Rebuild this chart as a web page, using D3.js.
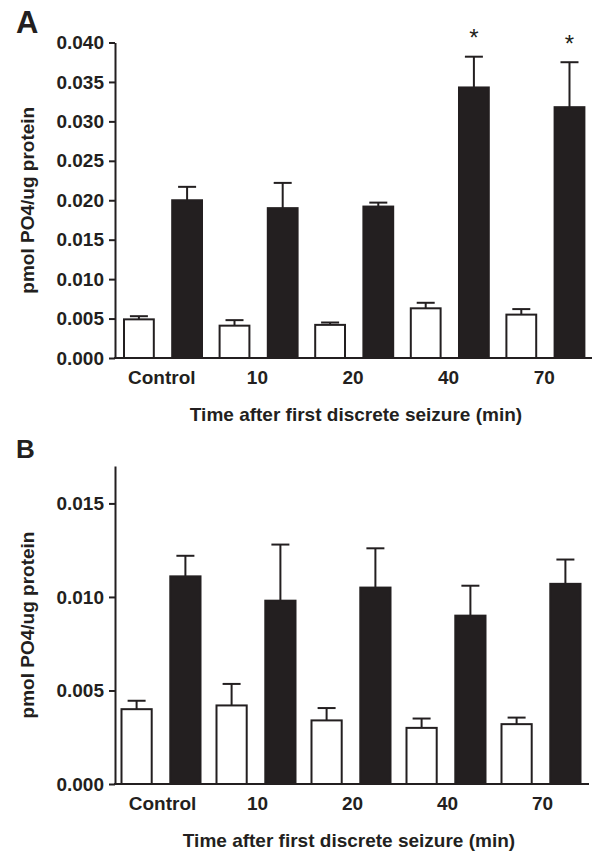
<!DOCTYPE html>
<html>
<head>
<meta charset="utf-8">
<script src="https://cdn.jsdelivr.net/npm/d3@7"></script>
<style>
	body { margin: 0; background: #fff; }
	svg text { font-family: "Liberation Sans", Arial, Helvetica, sans-serif; fill: #231f20; }
</style>
</head>
<body>
<svg id="chart" width="592" height="852"></svg>
<script>
// values
const categories = ['Control', '10', '20', '40', '70'];

const aWhite = [0.0049, 0.0041, 0.0042, 0.0063, 0.0055];
const aWhiteErr = [0.0004, 0.0007, 0.0003, 0.0007, 0.0007];
const aBlack = [0.0200, 0.0190, 0.0192, 0.0343, 0.0318];
const aBlackErr = [0.0017, 0.0032, 0.0005, 0.0039, 0.0057];
const aStars = [false, false, false, true, true];
const aTicks = [0, 0.005, 0.010, 0.015, 0.020, 0.025, 0.030, 0.035, 0.040];

const bWhite = [0.0040, 0.0042, 0.0034, 0.0030, 0.0032];
const bWhiteErr = [0.00045, 0.00115, 0.00066, 0.0005, 0.00035];
const bBlack = [0.0111, 0.0098, 0.0105, 0.0090, 0.0107];
const bBlackErr = [0.0011, 0.0030, 0.0021, 0.0016, 0.0013];
const bStars = [false, false, false, false, false];
const bTicks = [0, 0.005, 0.010, 0.015];

const yTitle = 'pmol PO4/ug protein';
const xTitle = 'Time after first discrete seizure (min)';

const ink = '#231f20';
const svg = d3.select('#chart');

function drawPanel(p) {
	const g = svg.append('g');

	const x = d3.scaleBand().domain(categories).range(p.xRange);
	const sub = d3.scaleBand().domain(['white', 'black']).range(p.subRange).paddingInner(0.34);
	const y = d3.scaleLinear().domain(p.yDomain).range(p.yRange);

	// rows: one per bar
	let rows = [];
	categories.forEach((c, i) => {
		rows.push({ cat: c, kind: 'white', v: p.white[i], e: p.whiteErr[i], star: false });
		rows.push({ cat: c, kind: 'black', v: p.black[i], e: p.blackErr[i], star: p.stars[i] });
	});
	const cx = d => x(d.cat) + sub(d.kind) + sub.bandwidth() / 2;

	// error bars (upper only)
	const eb = g.selectAll('.err').data(rows).enter().append('g').attr('class', 'err')
		.attr('stroke', ink).attr('stroke-width', 2);
	eb.append('line')
		.attr('x1', cx).attr('x2', cx)
		.attr('y1', d => y(d.v)).attr('y2', d => y(d.v + d.e));
	eb.append('line')
		.attr('x1', d => cx(d) - 9).attr('x2', d => cx(d) + 9)
		.attr('y1', d => y(d.v + d.e)).attr('y2', d => y(d.v + d.e));

	g.selectAll('.bar').data(rows).enter().append('rect')
		.attr('class', 'bar')
		.attr('x', d => x(d.cat) + sub(d.kind) + 1)
		.attr('width', sub.bandwidth() - 2)
		.attr('y', d => y(d.v))
		.attr('height', d => y(0) - y(d.v))
		.attr('fill', d => d.kind === 'white' ? '#fff' : ink)
		.attr('stroke', ink)
		.attr('stroke-width', 2);

	g.selectAll('.star').data(rows.filter(d => d.star)).enter().append('text')
		.attr('class', 'star')
		.attr('x', cx)
		.attr('y', d => y(d.v + d.e) - 10.5)
		.attr('text-anchor', 'middle')
		.style('font-size', '24px')
		.text('*');

	// axes
	const yAxis = g.append('g')
		.attr('transform', `translate(${p.yAxisX},0)`)
		.call(d3.axisLeft(y).tickValues(p.ticks).tickFormat(d3.format('.3f'))
			.tickSize(6).tickSizeOuter(0).tickPadding(5));
	const xAxis = g.append('g')
		.attr('transform', `translate(0,${y(0)})`)
		.call(d3.axisBottom(x).tickSize(0).tickPadding(12.5));
	[yAxis, xAxis].forEach(a => {
		a.selectAll('path, line').attr('stroke', ink).attr('stroke-width', 2);
		a.selectAll('text').style('font-size', '19px').style('font-weight', 'bold').attr('fill', ink);
	});
	xAxis.select('.domain').attr('d', `M${p.yAxisX - 1},0H${p.xEnd}`);

	g.append('text')
		.attr('transform', `translate(${p.yTitleX},${(p.yRange[0] + p.yRange[1]) / 2}) rotate(-90)`)
		.attr('text-anchor', 'middle')
		.style('font-size', '19px').style('font-weight', 'bold')
		.text(yTitle);

	g.append('text')
		.attr('x', p.xTitleX)
		.attr('y', y(0) + 63)
		.attr('text-anchor', 'middle')
		.style('font-size', '19px').style('font-weight', 'bold')
		.text(xTitle);

	g.append('text')
		.attr('x', 16)
		.attr('y', p.labelY)
		.style('font-size', p.labelSize).style('font-weight', 'bold')
		.text(p.label);
}

drawPanel({
	label: 'A', labelY: 33, labelSize: '31px',
	white: aWhite, whiteErr: aWhiteErr, black: aBlack, blackErr: aBlackErr, stars: aStars,
	ticks: aTicks, yDomain: [0, 0.040], yRange: [358, 42.5],
	xRange: [114, 592], subRange: [9, 89], yAxisX: 115, xEnd: 592,
	yTitleX: 34, xTitleX: 356
});

drawPanel({
	label: 'B', labelY: 458, labelSize: '26px',
	white: bWhite, whiteErr: bWhiteErr, black: bBlack, blackErr: bBlackErr, stars: bStars,
	ticks: bTicks, yDomain: [0, 0.017], yRange: [784, 466],
	xRange: [115, 590], subRange: [5.5, 86.5], yAxisX: 115, xEnd: 589,
	yTitleX: 34, xTitleX: 349
});
</script>
</body>
</html>
